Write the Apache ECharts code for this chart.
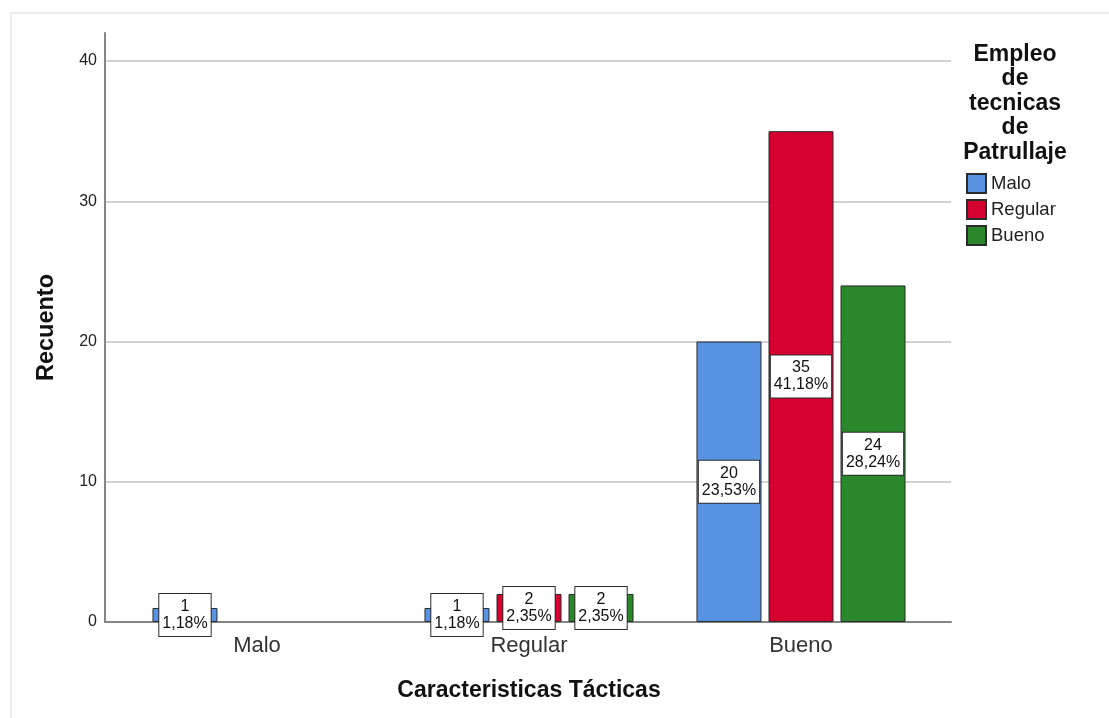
<!DOCTYPE html>
<html>
<head>
<meta charset="utf-8">
<script src="https://cdn.jsdelivr.net/npm/echarts@6/dist/echarts.min.js"></script>
<style>html,body{margin:0;padding:0;background:#fff}#c{width:1109px;height:718px}</style>
</head>
<body>
<div id="c"></div>
<script>
const categories = ['Malo', 'Regular', 'Bueno'];
const seriesNames = ['Malo', 'Regular', 'Bueno'];
const valuesMalo = [1, 1, 20];
const valuesRegular = [null, 2, 35];
const valuesBueno = [null, 2, 24];
const percentMalo = ['1,18%', '1,18%', '23,53%'];
const percentRegular = [null, '2,35%', '41,18%'];
const percentBueno = [null, '2,35%', '28,24%'];
const yTicks = [0, 10, 20, 30, 40];
const colors = ['#5793E1', '#D5002F', '#2A872C'];
const legendTitle = 'Empleo\nde\ntecnicas\nde\nPatrullaje';

const FONT = '"Liberation Sans", Arial, sans-serif';
const chart = echarts.init(document.getElementById('c'), null, {renderer: 'canvas'});

const allValues = [valuesMalo, valuesRegular, valuesBueno];
const allPct = [percentMalo, percentRegular, percentBueno];

const series = seriesNames.map((name, i) => ({
  name: name,
  type: 'bar',
  xAxisIndex: 1,
  yAxisIndex: 1,
  barWidth: 65,
  barGap: '10.8%',
  data: allValues[i].map(v => v == null ? '-' : v),
  itemStyle: {color: colors[i], borderColor: '#2b2b2b', borderWidth: 1},
  label: {
    show: true,
    position: 'inside',
    formatter: p => p.value + '\n' + allPct[i][p.dataIndex],
    backgroundColor: '#fff',
    borderColor: '#2b2b2b',
    borderWidth: 1,
    padding: [4, 3, 4, 3],
    color: '#111',
    fontFamily: FONT,
    fontSize: 16,
    lineHeight: 17,
    align: 'center'
  }
}));

chart.setOption({
  backgroundColor: '#fff',
  animation: false,
  grid: [
    {left: 105, right: 158, top: 33, bottom: 96, containLabel: false},
    {left: 121, right: 172, top: 33, bottom: 96, containLabel: false}
  ],
  xAxis: [
    {gridIndex: 0, type: 'value', min: 0, max: 1, show: true,
     axisLine: {show: true, lineStyle: {color: '#858585', width: 2}},
     axisTick: {show: false}, axisLabel: {show: false}, splitLine: {show: false}},
    {gridIndex: 1, type: 'category', data: categories,
     axisLine: {show: false}, axisTick: {show: false},
     axisLabel: {fontSize: 22, color: '#333', fontFamily: FONT, margin: 13},
     name: 'Caracteristicas Tácticas', nameLocation: 'middle', nameGap: 57,
     nameTextStyle: {fontSize: 23, fontWeight: 'bold', color: '#111', fontFamily: FONT}}
  ],
  yAxis: [
    {gridIndex: 0, type: 'value', min: 0, max: 42, interval: 10,
     axisLine: {show: true, lineStyle: {color: '#858585', width: 2}},
     axisTick: {show: false},
     axisLabel: {fontSize: 16, color: '#222', fontFamily: FONT, margin: 8, showMaxLabel: false,
       padding: [3, 0, 0, 0],
       formatter: v => yTicks.indexOf(v) >= 0 ? String(v) : ''},
     splitLine: {show: true, showMaxLine: false, showMinLine: false, lineStyle: {color: '#d2d2d2', width: 2}},
     name: 'Recuento', nameLocation: 'middle', nameGap: 46, nameRotate: 90,
     nameTextStyle: {fontSize: 23.5, fontWeight: 'bold', color: '#111', fontFamily: FONT}},
    {gridIndex: 1, type: 'value', min: 0, max: 42, interval: 10, show: false}
  ],
  legend: {
    orient: 'vertical', left: 961, top: 168,
    itemWidth: 19, itemHeight: 19, itemGap: 5,
    icon: 'rect',
    data: seriesNames,
    textStyle: {fontSize: 18.5, lineHeight: 19, color: '#222', fontFamily: FONT, padding: [0, 0, 0, 0]}
  },
  graphic: [
    {type: 'rect', shape: {x: 11, y: 13, width: 1200, height: 800}, style: {fill: 'none', stroke: '#ececec', lineWidth: 2}, z: -10},
    {type: 'text', x: 1015, y: 42,
     style: {text: legendTitle, textAlign: 'center', font: 'bold 23px ' + FONT, lineHeight: 24.5, fill: '#111'}}
  ],
  series: series
});
</script>
</body>
</html>
